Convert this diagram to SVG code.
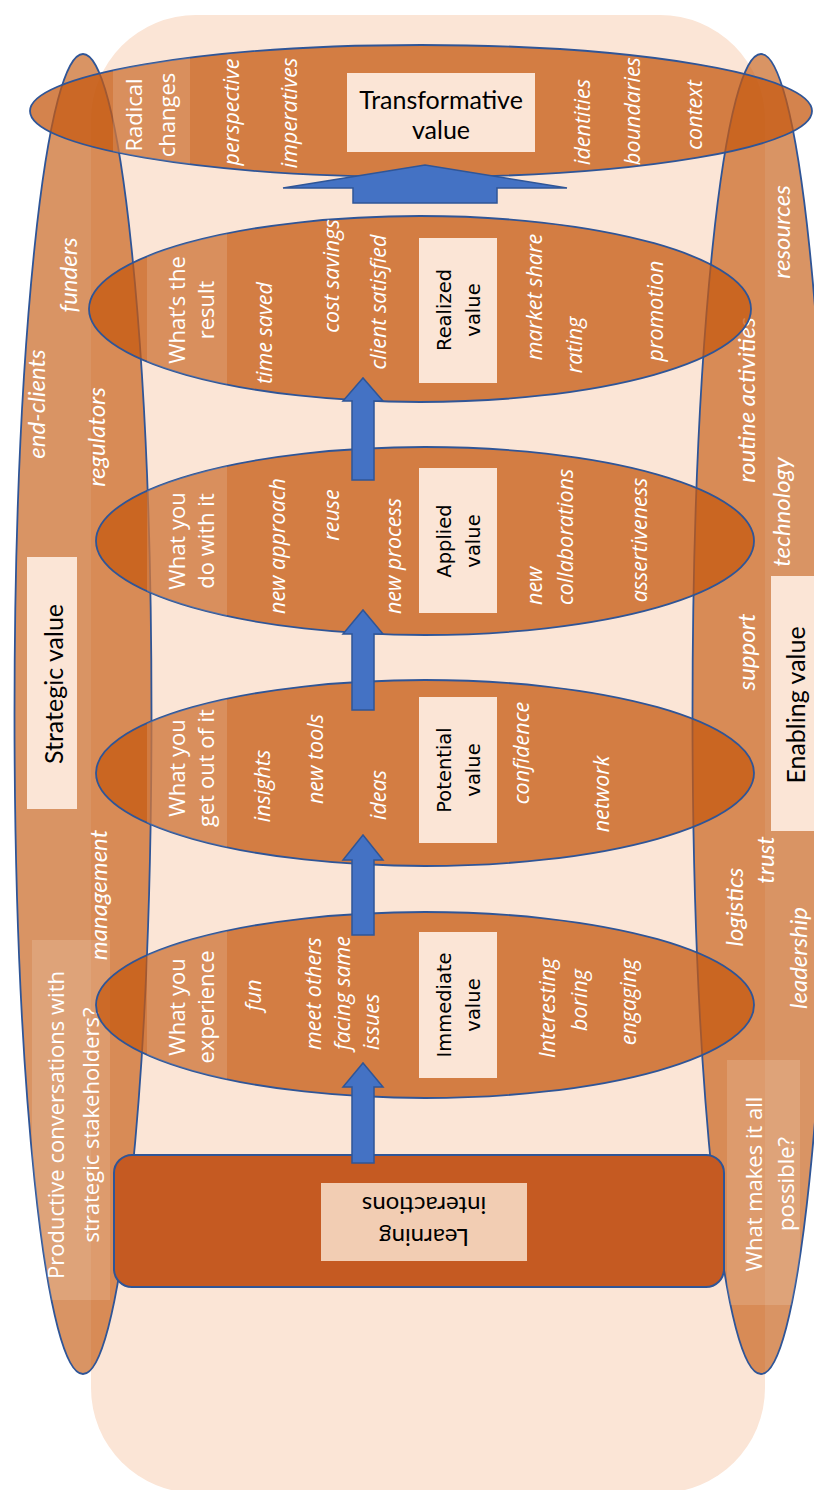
<svg xmlns="http://www.w3.org/2000/svg" width="814" height="1490" viewBox="0 0 814 1490">
<style>
.tall{fill:#C55A11;fill-opacity:.65;stroke:#2F5597;stroke-width:1.8}
.hell{fill:#C55A11;fill-opacity:.75;stroke:#2F5597;stroke-width:1.8}
.band{fill:#fff;fill-opacity:.14}
.lbl{fill:#FBE5D6}
text{text-anchor:middle;dominant-baseline:central}
.w{font-family:"Open Sans",sans-serif;font-size:22px;fill:#fff}
.wi{font-family:"Open Sans",sans-serif;font-style:italic;font-size:21.5px;fill:#fff}
.ni{font-family:Lato,sans-serif;font-style:italic;font-size:24px;fill:#fff}
.bk{font-family:"DejaVu Sans",sans-serif;font-size:19.5px;fill:#000}
.bn{font-family:Lato,sans-serif;font-size:25px;fill:#000}
.st{text-anchor:start}
.arrow{fill:#4472C4;stroke:#2F5597;stroke-width:1.5}
</style>
<defs>
<clipPath id="cT"><ellipse cx="421" cy="111" rx="391" ry="66"/></clipPath>
<clipPath id="cR"><ellipse cx="420" cy="309" rx="331" ry="93"/></clipPath>
<clipPath id="cA"><ellipse cx="425" cy="541" rx="329" ry="94"/></clipPath>
<clipPath id="cP"><ellipse cx="425" cy="773" rx="329" ry="93"/></clipPath>
<clipPath id="cI"><ellipse cx="425" cy="1005" rx="329" ry="93"/></clipPath>
<clipPath id="cL"><ellipse cx="83" cy="714" rx="68.5" ry="660"/></clipPath>
<clipPath id="cE"><ellipse cx="761" cy="714" rx="68.5" ry="660"/></clipPath>
</defs>
<rect id="background" x="91" y="15" width="674" height="1478" rx="105" fill="#FBE5D6"/>

<g id="strategic">
<ellipse class="tall" cx="83" cy="714" rx="68.5" ry="660"/>
<rect class="band" x="32" y="940" width="78" height="360" clip-path="url(#cL)"/>
<text class="ni" x="67" y="275" transform="rotate(-90 67 275)">funders</text>
<text class="ni" x="35" y="404" transform="rotate(-90 35 404)">end-clients</text>
<text class="ni" x="95" y="437" transform="rotate(-90 95 437)">regulators</text>
<rect class="lbl" x="27" y="557" width="50" height="252"/>
<text class="bn" x="53" y="684" transform="rotate(-90 53 684)">Strategic value</text>
<text class="ni" x="97" y="895" transform="rotate(-90 97 895)">management</text>
<text class="w" x="55" y="1125" transform="rotate(-90 55 1125)">Productive conversations with</text>
<text class="w" x="90" y="1125" transform="rotate(-90 90 1125)">strategic stakeholders?</text>
</g>

<g id="enabling">
<ellipse class="tall" cx="761" cy="714" rx="68.5" ry="660"/>
<rect class="band" x="727" y="1060" width="73" height="245" clip-path="url(#cE)"/>
<text class="ni" x="780" y="232" transform="rotate(-90 780 232)">resources</text>
<text class="ni" x="745" y="400" transform="rotate(-90 745 400)">routine activities</text>
<text class="ni" x="780" y="512" transform="rotate(-90 780 512)">technology</text>
<text class="ni" x="745" y="652" transform="rotate(-90 745 652)">support</text>
<rect class="lbl" x="771" y="576" width="50" height="255"/>
<text class="bn" x="795" y="705" transform="rotate(-90 795 705)">Enabling value</text>
<text class="ni" x="764" y="860" transform="rotate(-90 764 860)">trust</text>
<text class="ni" x="733" y="907" transform="rotate(-90 733 907)">logistics</text>
<text class="ni" x="797" y="958" transform="rotate(-90 797 958)">leadership</text>
<text class="w" x="753" y="1184" transform="rotate(-90 753 1184)">What makes it all</text>
<text class="w" x="785" y="1184" transform="rotate(-90 785 1184)">possible?</text>
</g>

<g id="transformative">
<ellipse class="hell" cx="421" cy="111" rx="391" ry="66"/>
<rect class="band" x="113" y="40" width="77" height="150" clip-path="url(#cT)"/>
<text class="w" x="133" y="115" transform="rotate(-90 133 115)">Radical</text>
<text class="w" x="166" y="115" transform="rotate(-90 166 115)">changes</text>
<text class="wi" x="230" y="112" transform="rotate(-90 230 112)">perspective</text>
<text class="wi" x="288" y="113" transform="rotate(-90 288 113)">imperatives</text>
<rect class="lbl" x="347" y="73" width="188" height="79"/>
<text class="bn" x="441" y="99">Transformative</text>
<text class="bn" x="441" y="129">value</text>
<text class="wi" x="581" y="122" transform="rotate(-90 581 122)">identities</text>
<text class="wi" x="631" y="111" transform="rotate(-90 631 111)">boundaries</text>
<text class="wi" x="693" y="115" transform="rotate(-90 693 115)">context</text>
</g>

<g id="realized">
<ellipse class="hell" cx="420" cy="309" rx="331" ry="93"/>
<rect class="band" x="147" y="200" width="80" height="220" clip-path="url(#cR)"/>
<text class="w" x="176" y="310" transform="rotate(-90 176 310)">What’s the</text>
<text class="w" x="205" y="310" transform="rotate(-90 205 310)">result</text>
<text class="wi" x="263" y="333" transform="rotate(-90 263 333)">time saved</text>
<text class="wi" x="330" y="276" transform="rotate(-90 330 276)">cost savings</text>
<text class="wi" x="377" y="302" transform="rotate(-90 377 302)">client satisfied</text>
<rect class="lbl" x="419" y="238" width="78" height="145"/>
<text class="bk" x="444" y="310" transform="rotate(-90 444 310)">Realized</text>
<text class="bk" x="473" y="310" transform="rotate(-90 473 310)">value</text>
<text class="wi" x="533" y="297" transform="rotate(-90 533 297)">market share</text>
<text class="wi" x="573" y="345" transform="rotate(-90 573 345)">rating</text>
<text class="wi" x="654" y="311" transform="rotate(-90 654 311)">promotion</text>
</g>

<g id="applied">
<ellipse class="hell" cx="425" cy="541" rx="329" ry="94"/>
<rect class="band" x="147" y="430" width="80" height="230" clip-path="url(#cA)"/>
<text class="w" x="176" y="541" transform="rotate(-90 176 541)">What you</text>
<text class="w" x="205" y="541" transform="rotate(-90 205 541)">do with it</text>
<text class="wi" x="276" y="546" transform="rotate(-90 276 546)">new approach</text>
<text class="wi" x="330" y="515" transform="rotate(-90 330 515)">reuse</text>
<text class="wi" x="392" y="556" transform="rotate(-90 392 556)">new process</text>
<rect class="lbl" x="419" y="468" width="78" height="145"/>
<text class="bk" x="444" y="541" transform="rotate(-90 444 541)">Applied</text>
<text class="bk" x="473" y="541" transform="rotate(-90 473 541)">value</text>
<text class="wi st" x="533" y="605" transform="rotate(-90 533 605)">new</text>
<text class="wi st" x="564" y="605" transform="rotate(-90 564 605)">collaborations</text>
<text class="wi" x="638" y="540" transform="rotate(-90 638 540)">assertiveness</text>
</g>

<g id="potential">
<ellipse class="hell" cx="425" cy="773" rx="329" ry="93"/>
<rect class="band" x="147" y="660" width="80" height="230" clip-path="url(#cP)"/>
<text class="w" x="176" y="768" transform="rotate(-90 176 768)">What you</text>
<text class="w" x="205" y="768" transform="rotate(-90 205 768)">get out of it</text>
<text class="wi" x="261" y="786" transform="rotate(-90 261 786)">insights</text>
<text class="wi" x="314" y="759" transform="rotate(-90 314 759)">new tools</text>
<text class="wi" x="377" y="795" transform="rotate(-90 377 795)">ideas</text>
<rect class="lbl" x="419" y="697" width="78" height="146"/>
<text class="bk" x="444" y="770" transform="rotate(-90 444 770)">Potential</text>
<text class="bk" x="473" y="770" transform="rotate(-90 473 770)">value</text>
<text class="wi" x="520" y="753" transform="rotate(-90 520 753)">confidence</text>
<text class="wi" x="600" y="794" transform="rotate(-90 600 794)">network</text>
</g>

<g id="immediate">
<ellipse class="hell" cx="425" cy="1005" rx="329" ry="93"/>
<rect class="band" x="147" y="890" width="80" height="230" clip-path="url(#cI)"/>
<text class="w" x="176" y="1007" transform="rotate(-90 176 1007)">What you</text>
<text class="w" x="205" y="1007" transform="rotate(-90 205 1007)">experience</text>
<text class="wi" x="252" y="995" transform="rotate(-90 252 995)">fun</text>
<text class="wi st" x="312" y="1050" transform="rotate(-90 312 1050)">meet others</text>
<text class="wi st" x="341" y="1050" transform="rotate(-90 341 1050)">facing same</text>
<text class="wi st" x="370" y="1050" transform="rotate(-90 370 1050)">issues</text>
<rect class="lbl" x="419" y="932" width="78" height="146"/>
<text class="bk" x="444" y="1005" transform="rotate(-90 444 1005)">Immediate</text>
<text class="bk" x="473" y="1005" transform="rotate(-90 473 1005)">value</text>
<text class="wi" x="546" y="1008" transform="rotate(-90 546 1008)">Interesting</text>
<text class="wi" x="578" y="1000" transform="rotate(-90 578 1000)">boring</text>
<text class="wi" x="627" y="1002" transform="rotate(-90 627 1002)">engaging</text>
</g>

<g id="learning">
<rect x="114" y="1155" width="610" height="132" rx="18" fill="#C55A22" stroke="#2F5597" stroke-width="2"/>
<rect x="321" y="1183" width="206" height="78" fill="#F2CDB3"/>
<g transform="rotate(180 424 1222)">
<text class="bn" x="424" y="1206" style="font-size:24px">Learning</text>
<text class="bn" x="424" y="1238" style="font-size:24px">interactions</text>
</g>
</g>

<g id="connectors">
<polygon class="arrow" points="352,1163 352,1087 343,1087 363,1063 383,1087 374,1087 374,1163"/>
<polygon class="arrow" points="352,935 352,860 343,860 363,835 383,860 374,860 374,935"/>
<polygon class="arrow" points="352,710 352,634 343,634 363,610 383,634 374,634 374,710"/>
<polygon class="arrow" points="352,480 352,401 343,401 363,378 383,401 374,401 374,480"/>
<polygon class="arrow" points="353,203 353,188 283,188 425,165 567,188 497,188 497,203"/>
</g>
</svg>
